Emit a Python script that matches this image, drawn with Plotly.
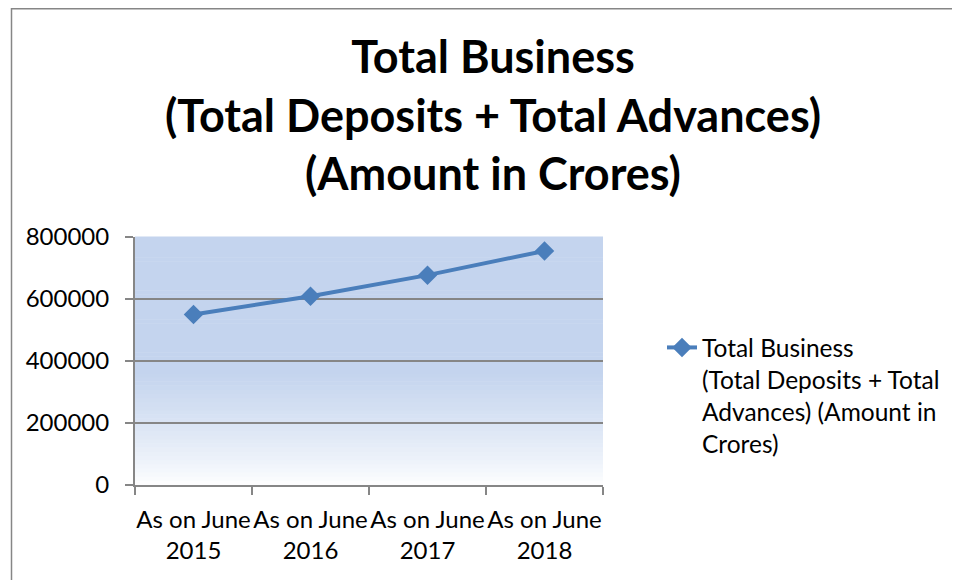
import plotly.graph_objects as go

categories = ["As on June<br>2015", "As on June<br>2016", "As on June<br>2017", "As on June<br>2018"]
total_business = [550000, 609000, 677000, 755000]
series_name = "Total Business<br>(Total Deposits + Total<br>Advances) (Amount in<br>Crores)"
y_ticks = [0, 200000, 400000, 600000, 800000]

W, H = 960, 580
O = 8  # page body offset
L, R, T, B = 135 - O, 357 + O, 237 - O, 95 + O
pw, ph = W - L - R, H - T - B

def px_x(p):
    return (p - O - L) / pw

def px_y(p):
    return (H - B - (p - O)) / ph

fig = go.Figure()
fig.add_trace(go.Scatter(
    x=categories, y=total_business, mode="lines+markers", name=series_name,
    line=dict(color="#4A7EBB", width=4),
    marker=dict(symbol="diamond", size=15, color="#4A7EBB"),
    showlegend=True,
))

# gradient background for plot area (top blue -> bottom white)
top = (196, 212, 238)
n = 60
shapes = []
for i in range(n):
    t0 = i / n
    t1 = (i + 1) / n
    tm = (t0 + t1) / 2  # 0 bottom, 1 top
    if tm >= 0.45:
        c = top
    else:
        f = tm / 0.45
        f = f ** 0.8
        c = tuple(round(255 + (top[k] - 255) * f) for k in range(3))
    shapes.append(dict(type="rect", xref="x domain", yref="y domain",
                       x0=0, x1=1, y0=t0, y1=t1 + 0.002, layer="below",
                       line=dict(width=0), fillcolor="rgb(%d,%d,%d)" % c))
# outer chart border
shapes.append(dict(type="rect", xref="paper", yref="paper",
                   x0=px_x(11.5), x1=px_x(990), y0=px_y(600), y1=px_y(O + 0.75),
                   line=dict(color="#868686", width=1.5), fillcolor="rgba(0,0,0,0)",
                   layer="above"))

fig.update_layout(
    width=W, height=H,
    margin=dict(l=L, r=R, t=T, b=B),
    paper_bgcolor="white", plot_bgcolor="rgba(0,0,0,0)",
    font=dict(family="Lato", size=24, color="black"),
    title=dict(text="<b>Total Business<br>(Total Deposits + Total Advances)<br>(Amount in Crores)</b>",
               x=(493 - O) / W, xanchor="center", xref="container",
               y=1 - 65 / H, yanchor="top", yref="container",
               font=dict(family="Lato", size=45, color="black")),
    shapes=shapes,
    showlegend=True,
    legend=dict(x=px_x(662), y=px_y(325), xanchor="left", yanchor="top",
                valign="top", font=dict(size=24.5), bgcolor="rgba(0,0,0,0)",
                tracegroupgap=0),
    xaxis=dict(type="category", range=[-0.5, 3.5], tickson="boundaries",
               ticks="outside", ticklen=8,
               tickcolor="#868686", tickwidth=2, showline=True, linecolor="#868686",
               linewidth=2, showgrid=False, tickangle=0, zeroline=False,
               ticklabelstandoff=12),
    yaxis=dict(range=[0, 800000], tickvals=y_ticks, tickformat="d", ticks="outside",
               ticklen=8, tickcolor="#868686", tickwidth=2, showline=True,
               linecolor="#868686", linewidth=2, showgrid=True, gridcolor="#868686",
               gridwidth=2, zeroline=False, ticklabelstandoff=11),
)

fig.write_html("out.html")
